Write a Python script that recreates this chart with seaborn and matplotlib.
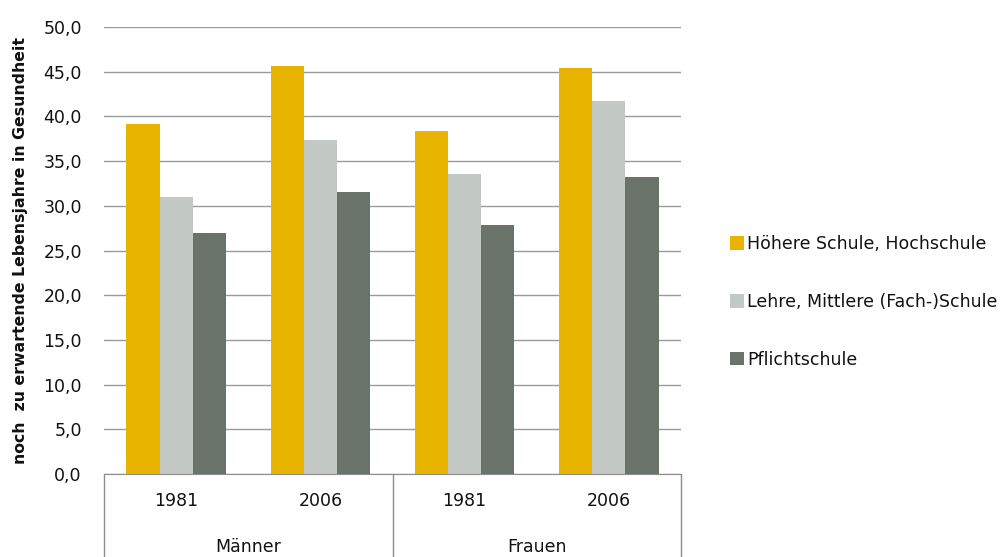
import seaborn as sns
import matplotlib.pyplot as plt
import pandas as pd
from matplotlib.patches import Patch
from matplotlib.ticker import FuncFormatter

# Data
groups = ['Männer', 'Männer', 'Frauen', 'Frauen']
years = ['1981', '2006', '1981', '2006']
series = ['Höhere Schule, Hochschule', 'Lehre, Mittlere (Fach-)Schule', 'Pflichtschule']
hoehere = [39.1, 45.6, 38.4, 45.4]
lehre = [31.0, 37.4, 33.6, 41.7]
pflicht = [27.0, 31.5, 27.9, 33.2]
colors = ['#E8B400', '#C2C8C3', '#69736A']

rows = []
for i in range(4):
    cat = groups[i] + ' ' + years[i]
    for name, vals in zip(series, [hoehere, lehre, pflicht]):
        rows.append({'cat': cat, 'serie': name, 'wert': vals[i]})
df = pd.DataFrame(rows)
order = [g + ' ' + y for g, y in zip(groups, years)]

sns.set_style('white')
plt.rcParams['font.family'] = ['DejaVu Sans']
plt.rcParams['text.color'] = '#111111'

fig = plt.figure(figsize=(10.03, 5.57), dpi=100)
ax = fig.add_axes([0.1037, 0.149, 0.5753, 0.8025])

sns.barplot(data=df, x='cat', y='wert', hue='serie', order=order, hue_order=series,
            palette=colors, width=0.69, edgecolor='none', saturation=1, ax=ax, legend=False)

ax.set_ylim(0, 50)
ax.set_yticks(range(0, 51, 5))
ax.yaxis.set_major_formatter(FuncFormatter(lambda v, p: f'{v:.1f}'.replace('.', ',')))
ax.grid(axis='y', color='#9a9a9a', linewidth=1)
ax.set_axisbelow(True)
for s in ['top', 'right', 'left']:
    ax.spines[s].set_visible(False)
ax.spines['bottom'].set_color('#8c8c8c')
ax.tick_params(axis='y', length=4, color='#9a9a9a', labelsize=12.5, pad=12, labelcolor='#111111')
ax.tick_params(axis='x', length=0, labelsize=12.5, pad=13, labelcolor='#111111')
ax.set_xticks(range(4))
ax.set_xticklabels(years)
ax.set_xlabel('')
ax.set_ylabel('noch  zu erwartende Lebensjahre in Gesundheit', fontsize=11.3,
              fontweight='bold', labelpad=11, color='#111111')

# category box below the axis
for xpos in [-0.5, 1.5, 3.5]:
    ax.plot([xpos, xpos], [0, -9.3], color='#8c8c8c', lw=1, clip_on=False,
            transform=ax.transData)
ax.set_xlim(-0.5, 3.5)
ax.text(0.5, -8.2, 'Männer', ha='center', va='center', fontsize=12.5)
ax.text(2.5, -8.2, 'Frauen', ha='center', va='center', fontsize=12.5)

handles = [Patch(facecolor=c, edgecolor='none') for c in colors]
fig.legend(handles, series, loc='center left', bbox_to_anchor=(0.712, 0.458),
           frameon=False, fontsize=12.5, labelspacing=2.3, handlelength=0.8,
           handleheight=0.8, handletextpad=0.2)

plt.savefig('out.png', dpi=100)
